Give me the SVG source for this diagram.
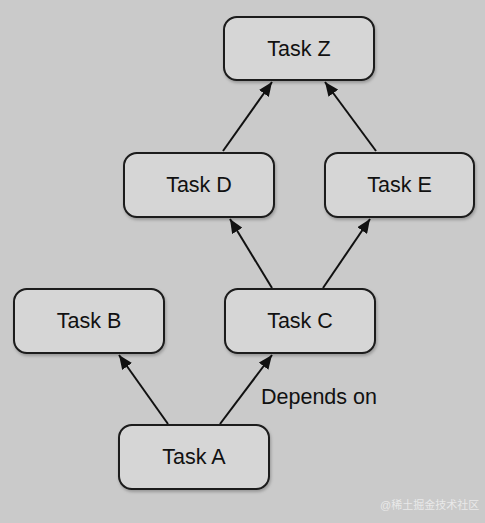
<svg xmlns="http://www.w3.org/2000/svg" width="485" height="523" viewBox="0 0 485 523">
<defs>
<marker id="ah" viewBox="0 0 14 12" refX="14" refY="6" markerWidth="14" markerHeight="12" markerUnits="userSpaceOnUse" orient="auto">
<path d="M0,0 L14,6 L0,12 z" fill="#111"/>
</marker>
<filter id="sh" x="-10%" y="-10%" width="130%" height="140%">
<feDropShadow dx="1" dy="2" stdDeviation="1.5" flood-color="#000" flood-opacity="0.25"/>
</filter>
</defs>
<style>
.n rect{fill:#d6d6d6;stroke:#1a1a1a;stroke-width:2;filter:url(#sh)}
.n text{font-family:"Liberation Sans",Arial,sans-serif;font-size:21.5px;fill:#111;text-anchor:middle;dominant-baseline:central}
.c line{stroke:#111;stroke-width:2;marker-end:url(#ah)}
</style>
<rect width="485" height="523" fill="#cacaca"/>
<g class="c" id="connectors">
<line x1="168" y1="424" x2="119" y2="355"/>
<line x1="220" y1="424" x2="272" y2="355"/>
<line x1="272" y1="288" x2="230" y2="219"/>
<line x1="323" y1="288" x2="370" y2="219"/>
<line x1="223" y1="151" x2="272" y2="82"/>
<line x1="376" y1="151" x2="325" y2="82"/>
</g>
<g class="n" id="taskZ"><rect x="224" y="17" width="150" height="63" rx="13"/><text x="299" y="48.5">Task Z</text></g>
<g class="n" id="taskD"><rect x="124" y="153" width="150" height="64" rx="13"/><text x="199" y="185">Task D</text></g>
<g class="n" id="taskE"><rect x="325" y="153" width="149" height="64" rx="13"/><text x="399.5" y="185">Task E</text></g>
<g class="n" id="taskB"><rect x="14" y="289" width="150" height="64" rx="13"/><text x="89" y="321">Task B</text></g>
<g class="n" id="taskC"><rect x="225" y="289" width="150" height="64" rx="13"/><text x="300" y="321">Task C</text></g>
<g class="n" id="taskA"><rect x="119" y="425" width="150" height="64" rx="13"/><text x="194" y="457">Task A</text></g>
<text x="261" y="404" font-family="'Liberation Sans',Arial,sans-serif" font-size="21.5" fill="#111">Depends on</text>
<text x="380" y="509" font-family="'Liberation Sans','Noto Sans CJK SC',sans-serif" font-size="11" fill="#ffffff" fill-opacity="0.6">@稀土掘金技术社区</text>
</svg>
